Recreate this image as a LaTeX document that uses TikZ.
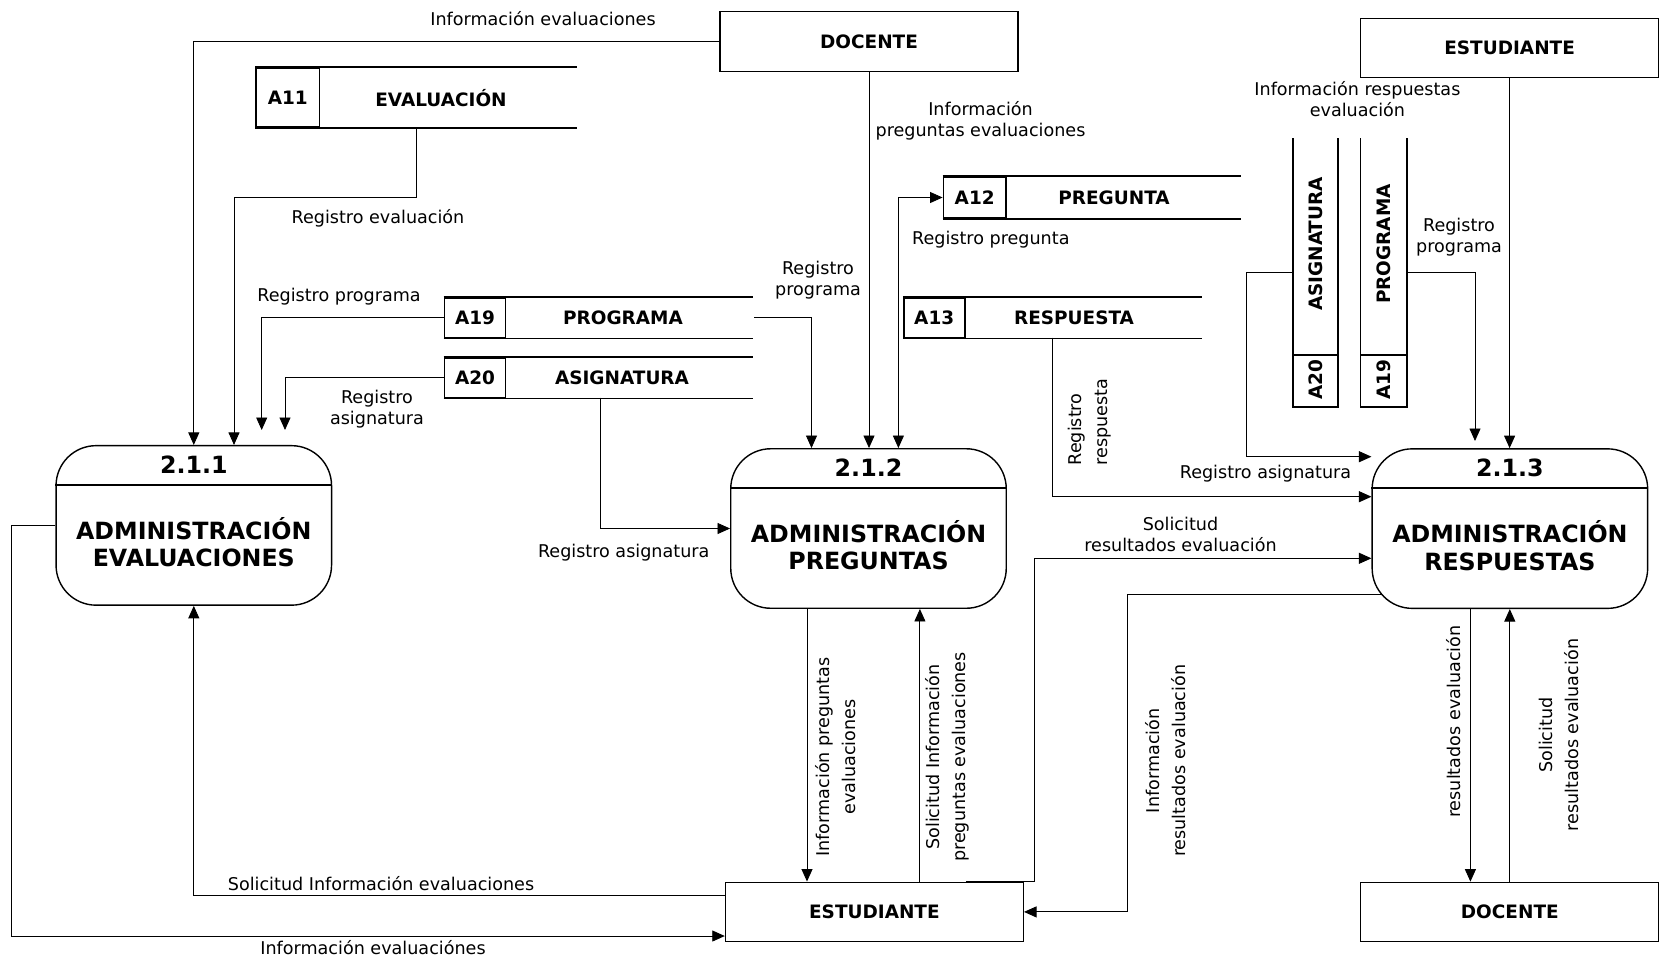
\documentclass[tikz,border=0pt]{standalone}
\usepackage{fontspec}
\setmainfont{DejaVu Sans}
\usetikzlibrary{arrows.meta}

\begin{document}
\begin{tikzpicture}[x=0.2mm, y=-0.2mm,
  ent/.style={draw, line width=0.7pt, minimum width=59.6mm, minimum height=11.9mm, inner sep=0pt, font=\bfseries\fontsize{10.5}{12}\selectfont},
  proc/.style={draw, line width=0.8pt, rounded corners=8mm, minimum width=55.1mm, minimum height=31.9mm, inner sep=0pt},
  pnum/.style={font=\bfseries\fontsize{13.5}{15}\selectfont},
  ptit/.style={align=center, font=\bfseries\fontsize{13.5}{15.5}\selectfont},
  sid/.style={draw, line width=1pt, minimum width=12.2mm, minimum height=8mm, inner sep=0pt, font=\bfseries\fontsize{10.5}{12}\selectfont},
  sname/.style={font=\bfseries\fontsize{10.5}{12}\selectfont},
  sline/.style={line width=1pt},
  flow/.style={->, >={Triangle[length=2.5mm,width=2.2mm]}, line width=0.5pt},
  lbl/.style={align=center, font=\fontsize{10}{12}\selectfont},
  vlbl/.style={lbl, rotate=90, font=\fontsize{10}{14.8}\selectfont}]

\useasboundingbox (0,0) rectangle (1666,959);

%entidades
\node[ent] (docT) at (869,41.5) {DOCENTE};
\node[ent] (estT) at (1509.6,48) {ESTUDIANTE};
\node[ent] (estB) at (874.4,911.9) {ESTUDIANTE};
\node[ent] (docB) at (1509.8,912) {DOCENTE};

%procesos
\node[proc] (p1) at (193.8,525.4) {};
\node[proc] (p2) at (868.5,528.5) {};
\node[proc] (p3) at (1509.9,528.6) {};
\foreach \p/\n/\t in {p1/2.1.1/EVALUACIONES, p2/2.1.2/PREGUNTAS, p3/2.1.3/RESPUESTAS}{
  \draw[line width=0.8pt] ([yshift=-8mm]\p.north west) -- ([yshift=-8mm]\p.north east);
  \node[pnum] (\p-num) at ([yshift=-4mm]\p.north) {\n};
  \node[ptit] (\p-tit) at ([yshift=-3.4mm]\p.center) {ADMINISTRACIÓN\\\t};
}

%almacenes
\node[sid, minimum width=12.7mm, minimum height=11.9mm] (a11) at (287.8,97.5) {A11};
\draw[sline] (a11.north west) -- ++(322,0) (a11.south west) -- ++(322,0);
\node[sname] (a11n) at (441,98) {EVALUACIÓN};

\node[sid] (a19) at (475,317.7) {A19};
\draw[sline] (a19.north west) -- ++(309.5,0) (a19.south west) -- ++(309.5,0);
\node[sname] (a19n) at (623,317.7) {PROGRAMA};

\node[sid] (a20) at (475,377.7) {A20};
\draw[sline] (a20.north west) -- ++(309.5,0) (a20.south west) -- ++(309.5,0);
\node[sname] (a20n) at (622,377.7) {ASIGNATURA};

\node[sid, minimum width=12.5mm, minimum height=8.3mm] (a12) at (974.7,197.5) {A12};
\draw[sline] (a12.north west) -- ++(298.6,0) (a12.south west) -- ++(298.6,0);
\node[sname] (a12n) at (1114,197.5) {PREGUNTA};

\node[sid] (a13) at (934.2,317.7) {A13};
\draw[sline] (a13.north west) -- ++(299.3,0) (a13.south west) -- ++(299.3,0);
\node[sname] (a13n) at (1074,317.7) {RESPUESTA};

%almacenes verticales
\draw[sline] (1292.7,138) -- (1292.7,407.3) -- (1338.3,407.3) -- (1338.3,138) (1292.7,355) -- (1338.3,355);
\node[sname, rotate=90] (v20n) at (1315.5,244) {ASIGNATURA};
\node[sname, rotate=90] (v20) at (1315.5,380) {A20};
\draw[sline] (1360.5,138) -- (1360.5,407.3) -- (1406.7,407.3) -- (1406.7,138) (1360.5,355) -- (1406.7,355);
\node[sname, rotate=90] (v19n) at (1383.6,244) {PROGRAMA};
\node[sname, rotate=90] (v19) at (1383.6,380) {A19};

%puntos de los flujos
\coordinate (a11s) at (416.4,127.3);
\coordinate (rev) at (234,197);
\coordinate (rp1) at (261.7,430);
\coordinate (ra1) at (285,430);
\coordinate (a20s) at (600,397.7);
\coordinate (a19e) at (754,317.7);
\coordinate (rp2) at (811.5,317.7);
\coordinate (rq) at (898.4,197.5);
\coordinate (a13s) at (1052.4,337.7);
\coordinate (rr) at (1052.4,496.7);
\coordinate (vasl) at (1292.7,272.7);
\coordinate (ra3) at (1246.5,456.7);
\coordinate (vprr) at (1406.7,272.7);
\coordinate (rp3) at (1475,441);
\coordinate (ie) at (11.5,936);
\coordinate (sr) at (1034.8,558.3);
\coordinate (ir) at (1127.4,594.3);
\coordinate (p3in) at ([xshift=2mm]p3.west);

%flujos
\draw[flow] (docT.west) -| (p1.north);
\draw[flow] (a11s) |- (rev) -- (rev |- p1.north);
\draw[flow] (a19.west) -| (rp1);
\draw[flow] (a20.west) -| (ra1);
\draw[flow] (a20s) |- (p2.west);
\draw[flow] (a19e) -- (rp2) -- (rp2 |- p2.north);
\draw[flow] (docT.south) -- (docT.south |- p2.north);
\draw[flow, <->] (rq |- p2.north) -- (rq) -- (a12.west);
\draw[flow] (a13s) -- (rr) -- (rr -| p3.west);
\draw[flow] (vasl) -| (ra3) -- (ra3 -| p3.west);
\draw[flow] (vprr) -| (rp3);
\draw[flow] (estT.south) -- (estT.south |- p3.north);
\draw[flow] ([xshift=-7.9mm]p3.south) -- ([xshift=-7.9mm]p3.south |- docB.north);
\draw[flow] (docB.north) -- (docB.north |- p3.south);
\draw[flow] ([xshift=-12.3mm]p2.south) -- ([xshift=-12.3mm]p2.south |- estB.north);
\draw[flow] ([xshift=9.1mm]estB.north) -- ([xshift=9.1mm]estB.north |- p2.south);
\draw[flow] ([yshift=3.2mm]estB.west) -| (p1.south);
\draw[flow] (p1.west) -| (ie) -- (ie -| estB.west);
\draw[flow] ([xshift=18.3mm]estB.north) -| (sr) -- (sr -| p3.west);
\draw[flow] (p3in |- ir) -- (ir) |- (estB.east);

%etiquetas
\node[lbl] (l1) at (543,19) {Información evaluaciones};
\node[lbl] (l2) at (378,218) {Registro evaluación};
\node[lbl] (l3) at (339,297) {Registro programa};
\node[lbl] (l4) at (377,409) {Registro\\asignatura};
\node[lbl] (l5) at (623.7,553) {Registro asignatura};
\node[lbl] (l6) at (818,280) {Registro\\programa};
\node[lbl] (l7) at (980.5,121) {Información\\preguntas evaluaciones};
\node[lbl] (l8) at (990.8,240) {Registro pregunta};
\node[vlbl, align=left] (l9) at (1090,422) {Registro\\respuesta};
\node[lbl] (l10) at (1357.4,98.7) {Información respuestas\\evaluación};
\node[lbl] (l11) at (1459,237) {Registro\\programa};
\node[lbl] (l12) at (1265.5,474) {Registro asignatura};
\node[lbl] (l13) at (1180.5,534.5) {Solicitud\\resultados evaluación};
\node[vlbl] (l14) at (1165.7,760.8) {Información\\resultados evaluación};
\node[vlbl] (l15) at (1453.7,721.7) {resultados evaluación};
\node[vlbl] (l16) at (1558.6,735) {Solicitud\\resultados evaluación};
\node[vlbl] (l17) at (836,757) {Información preguntas\\evaluaciones};
\node[vlbl] (l18) at (947.5,757) {Solicitud Información\\preguntas evaluaciones};
\node[lbl] (l19) at (381,884) {Solicitud Información evaluaciones};
\node[lbl] (l20) at (373,948) {Información evaluaciónes};

\end{tikzpicture}
\end{document}
